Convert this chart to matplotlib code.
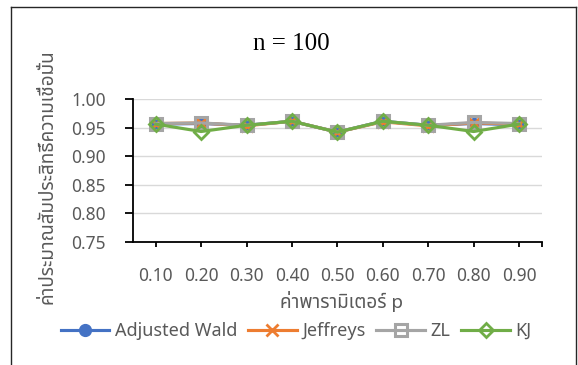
import matplotlib
matplotlib.use("Agg")
import matplotlib.pyplot as plt
from matplotlib.lines import Line2D

# ---- data ----
p_labels = ["0.10", "0.20", "0.30", "0.40", "0.50", "0.60", "0.70", "0.80", "0.90"]
adjusted_wald = [0.956, 0.957, 0.954, 0.961, 0.942, 0.961, 0.954, 0.957, 0.955]
jeffreys = [0.957, 0.958, 0.953, 0.961, 0.942, 0.960, 0.953, 0.958, 0.956]
zl = [0.957, 0.958, 0.954, 0.961, 0.942, 0.961, 0.954, 0.959, 0.957]
kj = [0.956, 0.943, 0.954, 0.961, 0.942, 0.961, 0.954, 0.943, 0.956]
y_ticks = [0.75, 0.80, 0.85, 0.90, 0.95, 1.00]

title = "n = 100"
x_title = "ค่าพารามิเตอร์ p"
y_title = "ค่าประมาณสัมประสิทธิ์ความเชื่อมั่น"

FONT = ["Noto Sans", "Noto Sans Thai", "DejaVu Sans"]
TXT = "#595959"
plt.rcParams["font.family"] = FONT

W, H = 578, 365
fig = plt.figure(figsize=(W / 100, H / 100), dpi=100)

# chart border
border_col = "#262626"
fig.add_artist(Line2D([10.5 / W, 10.5 / W], [0, 1 - 6.5 / H], color=border_col, lw=1.0, transform=fig.transFigure))
fig.add_artist(Line2D([10.5 / W, 576 / W], [1 - 6.5 / H, 1 - 6.5 / H], color=border_col, lw=1.0, transform=fig.transFigure))
fig.add_artist(Line2D([576 / W, 576 / W], [1 - 6.5 / H, 0], color=border_col, lw=1.0, transform=fig.transFigure))

left, right = 133 / W, 541.7 / W
bottom, top = 1 - 241.7 / H, 1 - 99 / H
ax = fig.add_axes([left, bottom, right - left, top - bottom])

x = list(range(len(p_labels)))
series = [
    ("Adjusted Wald", adjusted_wald, "#4472C4", dict(marker="o", markersize=8.5, markerfacecolor="#4472C4", markeredgecolor="#4472C4")),
    ("Jeffreys", jeffreys, "#ED7D31", dict(marker="x", markersize=8.5, markeredgewidth=2.0)),
    ("ZL", zl, "#A5A5A5", dict(marker="s", markersize=9, markerfacecolor="none", markeredgewidth=2.2)),
    ("KJ", kj, "#70AD47", dict(marker="D", markersize=7.5, markerfacecolor="none", markeredgewidth=2.0)),
]
for name, vals, col, mk in series:
    ax.plot(x, vals, color=col, lw=2.25, label=name, zorder=3, **mk)

ax.set_xlim(-0.5, len(p_labels) - 0.5)
ax.set_ylim(0.75, 1.00)
ax.set_yticks(y_ticks)
ax.set_yticklabels([f"{v:.2f}" for v in y_ticks])
ax.set_xticks(x + [len(p_labels) - 0.5])
ax.set_xticklabels(p_labels + [""])

for v in y_ticks[1:]:
    ax.axhline(v, color="#D9D9D9", lw=1.0, zorder=1)

for s in ["top", "right"]:
    ax.spines[s].set_visible(False)
for s in ["left", "bottom"]:
    ax.spines[s].set_color("black")
    ax.spines[s].set_linewidth(1.3)
ax.tick_params(axis="y", direction="out", length=5.5, width=1.3, color="black",
               labelsize=12.5, labelcolor=TXT, pad=14)
ax.tick_params(axis="x", direction="out", length=3.5, width=1.3, color="black",
               labelsize=12.5, labelcolor=TXT, pad=14.5)

fig.text(291.7 / W, 1 - 43.5 / H, title, family="Liberation Serif", fontsize=18,
         color="black", ha="center", va="center")
fig.text(342 / W, 1 - 301.7 / H, x_title, fontsize=13.6, color=TXT, ha="center", va="center")
fig.text(48 / W, 1 - 177 / H, y_title, fontsize=13.6, color=TXT, ha="center", va="center", rotation=90)

leg = fig.legend(loc="center", bbox_to_anchor=(296 / W, 1 - 331 / H), ncol=4, frameon=False,
                 fontsize=13, handlelength=2.7, handletextpad=0.3, columnspacing=0.6,
                 borderaxespad=0, borderpad=0)
for t in leg.get_texts():
    t.set_color(TXT)

fig.savefig("out.png", dpi=100)
